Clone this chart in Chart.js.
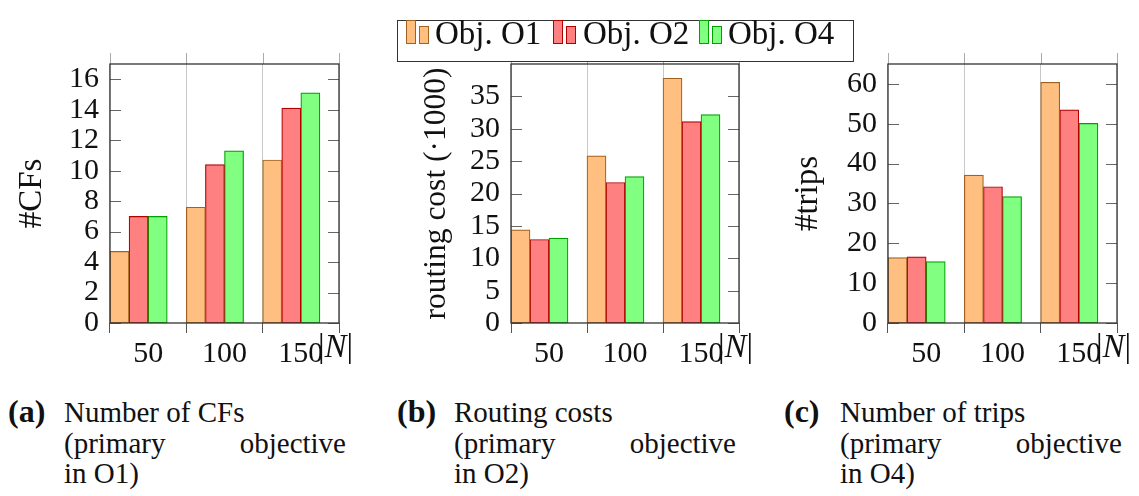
<!doctype html>
<html>
<head>
<meta charset="utf-8" />
<title>Objetivos O1, O2, O4</title>
<script src="https://cdn.jsdelivr.net/npm/chart.js@4.4.1/dist/chart.umd.min.js"></script>
<style>
  body { margin: 0; width: 1139px; height: 496px; position: relative; overflow: hidden;
         background: #fff; color: #111; font-family: "Liberation Serif", "DejaVu Serif", serif; }
  canvas { position: absolute; top: 50px; }
  #leyenda { position: absolute; left: 397px; top: 20px; width: 455px; height: 40px;
             border: 1px solid #333; background: #fff; }
  .ico { position: absolute; box-sizing: border-box; border: 1.2px solid; }
  .txt { position: absolute; top: 17px; font-size: 33px; line-height: 33px; white-space: nowrap; }
  .etq { position: absolute; top: 396px; font-size: 32px; line-height: 30.5px; font-weight: bold; }
  .cap { position: absolute; top: 397px; width: 282px; font-size: 29px; line-height: 30.5px; }
  .cap .just { display: flex; justify-content: space-between; }
</style>
</head>
<body>
<canvas id="g1" width="380" height="320" style="left:0px"></canvas>
<canvas id="g2" width="380" height="320" style="left:380px"></canvas>
<canvas id="g3" width="379" height="320" style="left:760px"></canvas>

<div id="leyenda"></div>
<div class="ico" style="left:406px;top:20px;width:10px;height:24px;background:#ffbf80;border-color:#a1621f"></div>
<div class="ico" style="left:419px;top:26px;width:10px;height:18px;background:#ffbf80;border-color:#a1621f"></div>
<span class="txt" style="left:435px">Obj. O1</span>
<div class="ico" style="left:553px;top:20px;width:10px;height:24px;background:#ff8080;border-color:#b00000"></div>
<div class="ico" style="left:566px;top:26px;width:10px;height:18px;background:#ff8080;border-color:#b00000"></div>
<span class="txt" style="left:583px">Obj. O2</span>
<div class="ico" style="left:699px;top:20px;width:10px;height:24px;background:#80ff80;border-color:#00a000"></div>
<div class="ico" style="left:712px;top:26px;width:10px;height:18px;background:#80ff80;border-color:#00a000"></div>
<span class="txt" style="left:728px">Obj. O4</span>

<span class="etq" style="left:8px">(a)</span>
<div class="cap" style="left:64px">
  <div>Number of CFs</div>
  <div class="just"><span>(primary</span><span>objective</span></div>
  <div>in O1)</div>
</div>
<span class="etq" style="left:397px">(b)</span>
<div class="cap" style="left:454px">
  <div>Routing costs</div>
  <div class="just"><span>(primary</span><span>objective</span></div>
  <div>in O2)</div>
</div>
<span class="etq" style="left:784px">(c)</span>
<div class="cap" style="left:840px">
  <div>Number of trips</div>
  <div class="just"><span>(primary</span><span>objective</span></div>
  <div>in O4)</div>
</div>

<script>
  // |N| = numero de clientes
  const categorias = ["50", "100", "150"];

  const cfsO1 = [4.7, 7.6, 10.7];
  const cfsO2 = [7.0, 10.4, 14.1];
  const cfsO4 = [7.0, 11.3, 15.1];

  const costoO1 = [14.4, 25.8, 37.8];
  const costoO2 = [12.9, 21.7, 31.1];
  const costoO4 = [13.1, 22.6, 32.2];

  const viajesO1 = [16.4, 37.1, 60.4];
  const viajesO2 = [16.6, 34.2, 53.5];
  const viajesO4 = [15.4, 31.7, 50.1];

  const ticksCfs = [0, 2, 4, 6, 8, 10, 12, 14, 16];
  const ticksCosto = [0, 5, 10, 15, 20, 25, 30, 35];
  const ticksViajes = [0, 10, 20, 30, 40, 50, 60];

  const estilos = [
    { fondo: "#ffbf80", borde: "#a1621f" },
    { fondo: "#ff8080", borde: "#b00000" },
    { fondo: "#80ff80", borde: "#00a000" },
  ];

  const serif = '"Liberation Serif", "DejaVu Serif", serif';

  // ticks hacia dentro, marco y etiqueta |N|
  const marco = {
    id: "marco",
    beforeDatasetsDraw(chart, args, opts) {
      const { ctx, chartArea: a, scales } = chart;
      ctx.save();
      ctx.strokeStyle = "#666";
      ctx.lineWidth = 1;
      opts.ticks.forEach((v) => {
        const py = Math.round(scales.y.getPixelForValue(v)) + 0.5;
        ctx.beginPath();
        ctx.moveTo(a.left, py);
        ctx.lineTo(a.left + 11, py);
        ctx.moveTo(a.right - 11, py);
        ctx.lineTo(a.right, py);
        ctx.stroke();
      });
      ctx.restore();
    },
    afterDatasetsDraw(chart) {
      const { ctx, chartArea: a } = chart;
      const n = chart.data.labels.length;
      const banda = (a.right - a.left) / n;
      ctx.save();
      ctx.strokeStyle = "#aaa";
      ctx.lineWidth = 1;
      for (let i = 0; i <= n; i++) {
        const px = Math.round(a.left + i * banda) + 0.5;
        ctx.beginPath();
        ctx.moveTo(px, a.top - 11);
        ctx.lineTo(px, a.top);
        ctx.stroke();
      }
      ctx.strokeStyle = "#333";
      ctx.lineWidth = 1.3;
      ctx.strokeRect(a.left, a.top, a.right - a.left, a.bottom - a.top);

      ctx.fillStyle = "#111";
      ctx.textBaseline = "alphabetic";
      let x = a.right - 21;
      const yb = a.bottom + 34;
      ctx.font = "33px " + serif;
      ctx.fillText("|", x, yb);
      x += ctx.measureText("|").width;
      ctx.font = "italic 33px " + serif;
      ctx.fillText("N", x, yb);
      x += ctx.measureText("N").width;
      ctx.font = "33px " + serif;
      ctx.fillText("|", x, yb);
      ctx.restore();
    },
  };

  function crearPanel(id, series, yMax, yTicks, titulo, caja) {
    const datasets = series.map((s, i) => ({
      data: s,
      backgroundColor: estilos[i].fondo,
      borderColor: estilos[i].borde,
      borderWidth: 1.2,
      borderSkipped: false,
      barPercentage: 1,
      categoryPercentage: 1,
    }));
    // hueco vacio a la derecha de cada grupo
    datasets.push({ data: categorias.map(() => null), barPercentage: 1, categoryPercentage: 1 });

    return new Chart(document.getElementById(id), {
      type: "bar",
      data: { labels: categorias, datasets: datasets },
      plugins: [marco],
      options: {
        responsive: false,
        animation: false,
        devicePixelRatio: 1,
        layout: {
          autoPadding: false,
          padding: { top: 14, bottom: 7, left: 0, right: caja.derecha },
        },
        plugins: {
          legend: { display: false },
          tooltip: { enabled: false },
          marco: { ticks: yTicks },
        },
        scales: {
          x: {
            offset: true,
            grid: { offset: true, color: "#c8c8c8", tickColor: "#555", tickLength: 10, lineWidth: 1 },
            border: { display: false },
            ticks: { color: "#111", padding: 3, autoSkip: false, maxRotation: 0, font: { family: serif, size: 30 } },
            afterFit: (s) => {
              s.height = 40;
              s.paddingLeft = 0;
              s.paddingRight = 0;
            },
          },
          y: {
            min: 0,
            max: yMax,
            grid: { display: false, drawTicks: false },
            border: { display: false },
            afterBuildTicks: (s) => { s.ticks = yTicks.map((v) => ({ value: v })); },
            ticks: { color: "#111", padding: 11, autoSkip: false, font: { family: serif, size: 30 } },
            title: {
              display: true,
              text: titulo,
              color: "#111",
              padding: { top: caja.titulo, bottom: 0 },
              font: { family: serif, size: caja.fuente },
            },
            afterFit: (s) => {
              s.width = caja.ancho;
              s.paddingTop = 0;
              s.paddingBottom = 0;
            },
          },
        },
      },
    });
  }

  crearPanel("g1", [cfsO1, cfsO2, cfsO4], 17, ticksCfs, "#CFs",
    { ancho: 110, derecha: 41, titulo: 13, fuente: 33 });
  crearPanel("g2", [costoO1, costoO2, costoO4], 40, ticksCosto, "routing cost (·1000)",
    { ancho: 131, derecha: 21, titulo: 38, fuente: 31.5 });
  crearPanel("g3", [viajesO1, viajesO2, viajesO4], 65, ticksViajes, "#trips",
    { ancho: 128, derecha: 22, titulo: 29, fuente: 33 });
</script>
</body>
</html>
